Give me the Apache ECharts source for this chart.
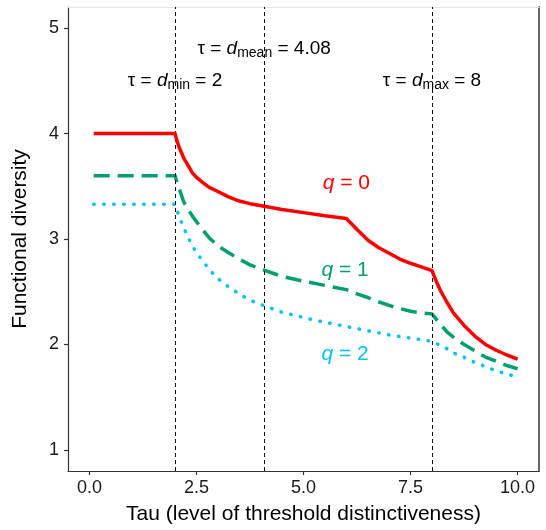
<!DOCTYPE html>
<html>
<head>
<meta charset="utf-8">
<style>
  html, body { margin: 0; padding: 0; background: #fff; }
  #chart { width: 546px; height: 530px; }
</style>
<script src="https://cdn.jsdelivr.net/npm/echarts@6/dist/echarts.min.js"></script>
</head>
<body>
<div id="chart"></div>
<script>
// Threshold distinctiveness (tau) grid
const tau = [0.1, 2.0, 2.05, 2.1, 2.2, 2.3, 2.4, 2.5, 2.65, 2.8, 3.0, 3.25, 3.5, 3.75, 4.08,
             4.5, 5.0, 5.5, 6.0, 6.25, 6.5, 6.75, 7.0, 7.25, 7.5, 7.75, 8.0,
             8.1, 8.2, 8.35, 8.5, 8.75, 9.0, 9.25, 9.5, 9.75, 10.0];

// Functional diversity for each order q
const fdQ0 = [4.00, 4.00, 3.925, 3.865, 3.77, 3.70, 3.63, 3.585, 3.535, 3.49, 3.45, 3.40, 3.36, 3.335, 3.31,
              3.28, 3.25, 3.22, 3.195, 3.09, 2.99, 2.92, 2.865, 2.81, 2.77, 2.735, 2.70,
              2.60, 2.51, 2.40, 2.30, 2.18, 2.08, 2.00, 1.945, 1.90, 1.86];
const fdQ1 = [3.60, 3.60, 3.535, 3.475, 3.355, 3.285, 3.22, 3.165, 3.085, 3.01, 2.935, 2.87, 2.81, 2.755, 2.705,
              2.645, 2.60, 2.56, 2.52, 2.48, 2.445, 2.405, 2.37, 2.34, 2.315, 2.30, 2.29,
              2.24, 2.19, 2.12, 2.07, 2.00, 1.94, 1.88, 1.84, 1.80, 1.77];
const fdQ2 = [3.33, 3.33, 3.27, 3.21, 3.11, 3.02, 2.94, 2.87, 2.79, 2.71, 2.625, 2.545, 2.48, 2.42, 2.367,
              2.305, 2.255, 2.21, 2.17, 2.15, 2.13, 2.11, 2.09, 2.075, 2.06, 2.045, 2.03,
              2.01, 1.99, 1.96, 1.92, 1.878, 1.83, 1.79, 1.75, 1.72, 1.69];

const qNames = ['q = 0', 'q = 1', 'q = 2'];

// Reference thresholds: min, mean and max pairwise distance
const thresholdNames = ['min', 'mean', 'max'];
const thresholdValues = [2, 4.08, 8];

// Axis ticks
const xTicks = [0, 2.5, 5, 7.5, 10];
const yTicks = [1, 2, 3, 4, 5];

// ---- layout / style ----
const FONT = '"Liberation Sans", Arial, sans-serif';
const colors = ['#ff0000', '#009e73', '#00bfff'];
const thresholdLabelFd = [4.5, 4.8, 4.5];
const qLabelAnchor = [[6.0, 3.53], [5.97, 2.70], [5.97, 1.91]];

const pairs = (ys) => tau.map((t, i) => [t, ys[i]]);

const lineStyles = [
  { width: 3.5, type: 'solid' },
  { width: 3.5, type: [16, 8], cap: 'butt' },
  { width: 3.5, type: [0.5, 9.5], cap: 'round' }
];

const curveSeries = [fdQ0, fdQ1, fdQ2].map((ys, i) => ({
  name: qNames[i],
  type: 'line',
  data: pairs(ys),
  showSymbol: false,
  symbol: 'none',
  silent: true,
  z: 5 - i,
  lineStyle: Object.assign({ color: colors[i], join: 'round' }, lineStyles[i])
}));

const textBase = { fontFamily: FONT, color: '#000' };

const thresholdLabelSeries = {
  type: 'scatter',
  silent: true,
  symbolSize: 1,
  itemStyle: { color: 'rgba(0,0,0,0)', opacity: 1 },
  z: 10,
  data: thresholdValues.map((v, i) => ({
    value: [v, thresholdLabelFd[i]],
    label: {
      show: true,
      position: 'inside',
      opacity: 1,
      formatter: '{t|\u03c4 = }{d|d}{s|' + thresholdNames[i] + '}{t| = ' + String(v) + '}',
      rich: {
        t: Object.assign({ fontSize: 19, lineHeight: 22, verticalAlign: 'middle' }, textBase),
        d: Object.assign({ fontSize: 19, fontStyle: 'italic', lineHeight: 22, verticalAlign: 'middle' }, textBase),
        s: Object.assign({ fontSize: 14, lineHeight: 13, verticalAlign: 'bottom' }, textBase)
      }
    }
  })),
  markLine: {
    silent: true,
    symbol: 'none',
    label: { show: false },
    lineStyle: { color: '#111', width: 1, type: [4, 3], opacity: 1 },
    data: thresholdValues.map(v => ({ xAxis: v }))
  }
};

const qLabelSeries = {
  type: 'scatter',
  silent: true,
  symbolSize: 1,
  itemStyle: { color: 'rgba(0,0,0,0)', opacity: 1 },
  z: 10,
  data: qNames.map((n, i) => ({
    value: qLabelAnchor[i],
    label: {
      show: true,
      position: 'inside',
      opacity: 1,
      formatter: '{q|q}{t|' + n.slice(1) + '}',
      rich: {
        q: { fontFamily: FONT, fontSize: 21, fontStyle: 'italic', color: colors[i] },
        t: { fontFamily: FONT, fontSize: 21, color: colors[i] }
      }
    }
  }))
};

const chart = echarts.init(document.getElementById('chart'), null, { renderer: 'canvas' });

chart.setOption({
  animation: false,
  backgroundColor: '#ffffff',
  grid: { left: 68, right: 7, top: 7, bottom: 57 },
  xAxis: [{
    type: 'value',
    min: -0.5,
    max: 10.5,
    name: 'Tau (level of threshold distinctiveness)',
    nameLocation: 'middle',
    nameGap: 33,
    nameTextStyle: { fontFamily: FONT, fontSize: 21, color: '#000' },
    axisLine: { show: true, onZero: false, lineStyle: { color: '#333', width: 1.2 } },
    axisTick: { show: true, length: 4, customValues: xTicks, lineStyle: { color: '#333', width: 1.2 } },
    axisLabel: {
      customValues: xTicks,
      margin: 8,
      fontFamily: FONT, fontSize: 18, color: '#1a1a1a',
      formatter: v => Number(v).toFixed(1)
    },
    splitLine: { show: false }
  }, {
    type: 'value',
    position: 'top',
    min: -0.5,
    max: 10.5,
    axisLine: { show: true, onZero: false, lineStyle: { color: '#e6e6e6', width: 1 } },
    axisTick: { show: false },
    axisLabel: { show: false },
    splitLine: { show: false }
  }],
  yAxis: [{
    type: 'value',
    min: 0.8,
    max: 5.2,
    name: 'Functional diversity',
    nameLocation: 'middle',
    nameGap: 37,
    nameRotate: 90,
    nameTextStyle: { fontFamily: FONT, fontSize: 21, color: '#000' },
    axisLine: { show: true, onZero: false, lineStyle: { color: '#333', width: 1.2 } },
    axisTick: { show: true, length: 4, customValues: yTicks, lineStyle: { color: '#333', width: 1.2 } },
    axisLabel: {
      customValues: yTicks,
      margin: 9,
      fontFamily: FONT, fontSize: 18, color: '#1a1a1a'
    },
    splitLine: { show: false }
  }, {
    type: 'value',
    position: 'right',
    min: 0.8,
    max: 5.2,
    axisLine: { show: true, onZero: false, lineStyle: { color: '#666', width: 2 } },
    axisTick: { show: false },
    axisLabel: { show: false },
    splitLine: { show: false }
  }],
  series: curveSeries.concat([thresholdLabelSeries, qLabelSeries])
});
</script>
</body>
</html>
